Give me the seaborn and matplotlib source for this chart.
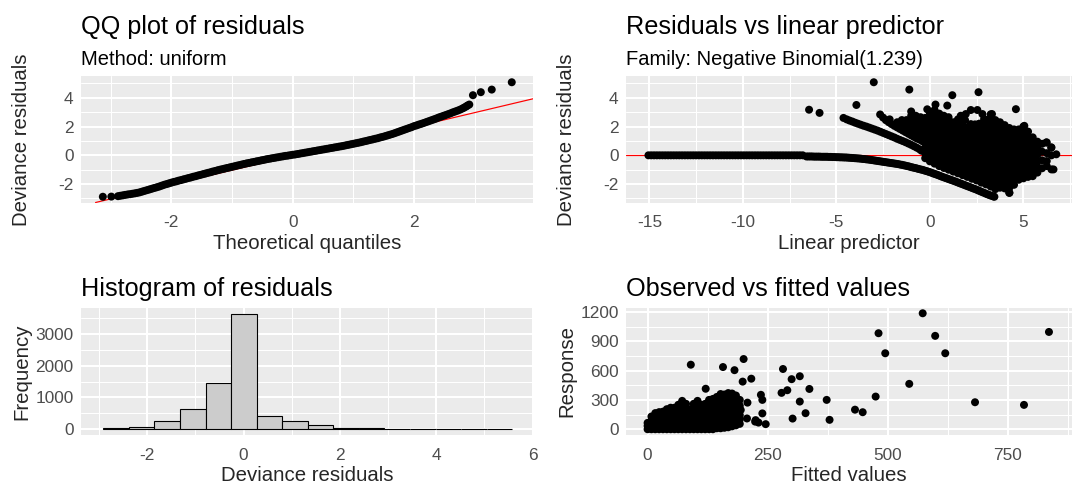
import numpy as np
import pandas as pd
import matplotlib
matplotlib.use("Agg")
import matplotlib.pyplot as plt
import seaborn as sns

# ---------------- QQ plot of residuals ----------------
qq_theoretical = [-3.13, -2.99, -2.88, -2.84, -2.80, -2.76, -2.72, -2.68, -2.64, -2.60,
                  -2.56, -2.52, -2.48, -2.44, -2.40, -2.36, -2.32, -2.28, -2.24, -2.20,
                  -2.16, -2.12, -2.08, -2.04, -2.00, -1.96, -1.92, -1.88, -1.84, -1.80,
                  -1.76, -1.72, -1.68, -1.64, -1.60, -1.56, -1.52, -1.48, -1.44, -1.40,
                  -1.36, -1.32, -1.28, -1.24, -1.20, -1.16, -1.12, -1.08, -1.04, -1.00,
                  -0.96, -0.92, -0.88, -0.84, -0.80, -0.76, -0.72, -0.68, -0.64, -0.60,
                  -0.56, -0.52, -0.48, -0.44, -0.40, -0.36, -0.32, -0.28, -0.24, -0.20,
                  -0.16, -0.12, -0.08, -0.04, 0.00, 0.04, 0.08, 0.12, 0.16, 0.20,
                  0.24, 0.28, 0.32, 0.36, 0.40, 0.44, 0.48, 0.52, 0.56, 0.60,
                  0.64, 0.68, 0.72, 0.76, 0.80, 0.84, 0.88, 0.92, 0.96, 1.00,
                  1.04, 1.08, 1.12, 1.16, 1.20, 1.24, 1.28, 1.32, 1.36, 1.40,
                  1.44, 1.48, 1.52, 1.56, 1.60, 1.64, 1.68, 1.72, 1.76, 1.80,
                  1.84, 1.88, 1.92, 1.96, 2.00, 2.04, 2.08, 2.12, 2.16, 2.20,
                  2.24, 2.28, 2.32, 2.36, 2.40, 2.44, 2.48, 2.52, 2.56, 2.60,
                  2.64, 2.68, 2.72, 2.76, 2.80, 2.83, 2.86, 2.88, 2.91, 2.97,
                  3.10, 3.28, 3.61]
qq_residual = [-2.88, -2.87, -2.84, -2.81, -2.78, -2.75, -2.72, -2.70, -2.67, -2.64,
               -2.61, -2.57, -2.52, -2.47, -2.42, -2.37, -2.32, -2.27, -2.22, -2.17,
               -2.11, -2.05, -2.00, -1.95, -1.90, -1.85, -1.81, -1.76, -1.72, -1.67,
               -1.63, -1.58, -1.54, -1.49, -1.45, -1.40, -1.36, -1.31, -1.27, -1.22,
               -1.18, -1.13, -1.09, -1.04, -1.00, -0.96, -0.92, -0.88, -0.84, -0.80,
               -0.76, -0.72, -0.68, -0.64, -0.60, -0.56, -0.53, -0.49, -0.46, -0.42,
               -0.39, -0.35, -0.32, -0.28, -0.25, -0.22, -0.19, -0.16, -0.13, -0.10,
               -0.07, -0.04, -0.02, 0.01, 0.04, 0.06, 0.09, 0.12, 0.15, 0.18,
               0.21, 0.24, 0.27, 0.30, 0.33, 0.36, 0.39, 0.42, 0.45, 0.48,
               0.51, 0.54, 0.57, 0.60, 0.63, 0.66, 0.70, 0.73, 0.77, 0.80,
               0.84, 0.87, 0.91, 0.95, 0.99, 1.03, 1.07, 1.11, 1.15, 1.19,
               1.24, 1.28, 1.33, 1.38, 1.43, 1.48, 1.54, 1.60, 1.66, 1.72,
               1.78, 1.84, 1.90, 1.96, 2.03, 2.08, 2.14, 2.19, 2.25, 2.31,
               2.37, 2.43, 2.49, 2.55, 2.62, 2.68, 2.74, 2.80, 2.86, 2.92,
               2.99, 3.05, 3.11, 3.18, 3.26, 3.33, 3.40, 3.46, 3.53, 4.18,
               4.39, 4.57, 5.08]
qq_line_intercept = -0.03
qq_line_slope = 1.0

# ---------------- Residuals vs linear predictor ----------------
# zero counts: flat run at very low predictor values
zero_flat_eta = [-15.05, -14.9, -14.75, -14.6, -14.45, -14.3, -14.15, -14.0, -13.85, -13.7,
                 -13.55, -13.4, -13.25, -13.1, -12.95, -12.8, -12.65, -12.5, -12.35, -12.2,
                 -12.05, -11.9, -11.75, -11.6, -11.45, -11.3, -11.15, -11.0, -10.85, -10.7,
                 -10.55, -10.4, -10.25, -10.1, -9.95, -9.8, -9.65, -9.5, -9.35, -9.2,
                 -9.05, -8.9, -8.75, -8.6, -8.45, -8.3, -8.15, -8.0, -7.85, -7.7,
                 -7.55, -7.4, -7.25, -7.1, -6.95, -6.8]
zero_flat_resid = [0.0, 0.0, 0.0, 0.0, 0.0, 0.0, 0.0, 0.0, 0.0, 0.0,
                   0.0, 0.0, 0.0, 0.0, 0.0, 0.0, 0.0, 0.0, 0.0, 0.0,
                   0.0, 0.0, 0.0, 0.0, 0.0, 0.0, 0.0, 0.0, 0.0, 0.0,
                   0.0, 0.0, 0.0, 0.0, 0.0, 0.0, 0.0, 0.0, 0.0, 0.0,
                   0.0, 0.0, 0.0, 0.0, 0.0, 0.0, 0.0, 0.0, 0.0, 0.0,
                   0.0, 0.0, 0.0, 0.0, 0.0, 0.0]
# zero counts: descending band
zero_curve_eta = [-6.6, -6.5, -6.4, -6.3, -6.2, -6.1, -6.0, -5.9, -5.8, -5.7,
                  -5.6, -5.5, -5.4, -5.3, -5.2, -5.1, -5.0, -4.9, -4.8, -4.7,
                  -4.6, -4.5, -4.4, -4.3, -4.2, -4.1, -4.0, -3.9, -3.8, -3.7,
                  -3.6, -3.5, -3.4, -3.3, -3.2, -3.1, -3.0, -2.9, -2.8, -2.7,
                  -2.6, -2.5, -2.4, -2.3, -2.2, -2.1, -2.0, -1.9, -1.8, -1.7,
                  -1.6, -1.5, -1.4, -1.3, -1.2, -1.1, -1.0, -0.9, -0.8, -0.7,
                  -0.6, -0.5, -0.4, -0.3, -0.2, -0.1, 0.0, 0.1, 0.2, 0.3,
                  0.4, 0.5, 0.6, 0.7, 0.8, 0.9, 1.0, 1.1, 1.2, 1.3,
                  1.4, 1.5, 1.6, 1.7, 1.8, 1.9, 2.0, 2.1, 2.2, 2.3,
                  2.4, 2.5, 2.6, 2.7, 2.8, 2.9, 3.0, 3.1, 3.2, 3.3,
                  3.4, 3.45]
zero_curve_resid = [-0.08, -0.08, -0.08, -0.08, -0.09, -0.09, -0.09, -0.09, -0.10, -0.10,
                    -0.10, -0.10, -0.11, -0.11, -0.12, -0.12, -0.13, -0.13, -0.14, -0.14,
                    -0.15, -0.15, -0.16, -0.17, -0.18, -0.19, -0.20, -0.21, -0.22, -0.23,
                    -0.25, -0.26, -0.28, -0.29, -0.31, -0.33, -0.35, -0.37, -0.39, -0.41,
                    -0.43, -0.45, -0.47, -0.49, -0.51, -0.53, -0.55, -0.57, -0.59, -0.61,
                    -0.64, -0.66, -0.69, -0.72, -0.75, -0.78, -0.82, -0.85, -0.88, -0.91,
                    -0.95, -0.98, -1.01, -1.05, -1.09, -1.13, -1.17, -1.22, -1.27, -1.31,
                    -1.36, -1.41, -1.46, -1.51, -1.56, -1.60, -1.65, -1.70, -1.74, -1.79,
                    -1.84, -1.89, -1.94, -1.99, -2.04, -2.09, -2.14, -2.19, -2.24, -2.29,
                    -2.34, -2.39, -2.45, -2.50, -2.56, -2.61, -2.67, -2.72, -2.77, -2.82,
                    -2.86, -2.88]
# counts of one
one_band_eta = [-4.62, -4.45, -4.3, -4.15, -4.0, -3.85, -3.7, -3.55, -3.4, -3.25,
                -3.1, -2.95, -2.8, -2.65, -2.5, -2.35, -2.2, -2.05, -1.9, -1.75,
                -1.6, -1.45, -1.3, -1.15, -1.0, -0.85, -0.7, -0.55, -0.45]
one_band_resid = [2.60, 2.50, 2.42, 2.35, 2.27, 2.20, 2.13, 2.06, 2.00, 1.93,
                  1.86, 1.79, 1.72, 1.64, 1.56, 1.48, 1.40, 1.32, 1.24, 1.15,
                  1.07, 0.99, 0.91, 0.82, 0.73, 0.63, 0.53, 0.42, 0.32]
# counts of two
two_band_eta = [-2.66, -2.5, -2.35, -2.2, -2.05, -1.9, -1.75, -1.6, -1.45, -1.3,
                -1.15, -1.0, -0.85, -0.7, -0.55, -0.4]
two_band_resid = [2.84, 2.62, 2.44, 2.30, 2.17, 2.05, 1.94, 1.83, 1.72, 1.61,
                  1.50, 1.39, 1.28, 1.17, 1.09, 0.98]
# larger counts: dense cloud, listed column by column
cloud_eta = [-2.15, -1.75, -1.5, -1.25, -1.0, -0.75, -0.5, -0.25, 0.0, 0.25,
             0.5, 0.75, 1.0, 1.25, 1.5, 1.75, 2.0, 2.25, 2.5, 2.75,
             3.0, 3.25, 3.5, 3.75, 4.0, 4.25, 4.5, 4.75, 5.0, 5.25,
             5.5, 5.75, 6.0, 6.25, 6.5]
cloud_resid = [
    [2.5],
    [2.3],
    [2.1, 2.45],
    [1.9, 2.25, 2.45],
    [1.75, 2.1, 2.45, 2.75, 3.05],
    [1.55, 1.9, 2.25, 2.55, 2.75],
    [1.35, 1.7, 2.05, 2.4, 2.65],
    [-0.2, 0.15, 0.5, 0.85, 1.2, 1.55, 1.9, 2.25, 2.6],
    [-0.42, -0.1, 0.25, 0.6, 0.95, 1.3, 1.65, 2.0, 2.35, 2.7, 2.95],
    [-0.58, -0.27, 0.08, 0.43, 0.78, 1.13, 1.48, 1.83, 2.18, 2.53, 2.85, 3.15],
    [-0.75, -0.45, -0.1, 0.25, 0.6, 0.95, 1.3, 1.65, 2.0, 2.35, 2.65, 2.9],
    [-0.88, -0.6, -0.25, 0.1, 0.45, 0.8, 1.15, 1.5, 1.85, 2.2, 2.5, 2.75],
    [-1.0, -0.7, -0.35, 0.0, 0.35, 0.7, 1.05, 1.4, 1.75, 2.1, 2.4, 2.65],
    [-1.13, -0.85, -0.5, -0.15, 0.2, 0.55, 0.9, 1.25, 1.6, 1.95, 2.3],
    [-1.25, -0.95, -0.6, -0.25, 0.1, 0.45, 0.8, 1.15, 1.5, 1.85, 2.2, 2.5],
    [-1.38, -1.1, -0.75, -0.4, -0.05, 0.3, 0.65, 1.0, 1.35, 1.7, 2.05, 2.4, 2.7],
    [-1.5, -1.2, -0.85, -0.5, -0.15, 0.2, 0.55, 0.9, 1.25, 1.6, 1.95],
    [-1.63, -1.35, -1.0, -0.65, -0.3, 0.05, 0.4, 0.75, 1.1, 1.45, 1.8],
    [-1.75, -1.45, -1.1, -0.75, -0.4, -0.05, 0.3, 0.65, 1.0, 1.35, 1.7, 1.95],
    [-1.9, -1.6, -1.25, -0.9, -0.55, -0.2, 0.15, 0.5, 0.85, 1.2, 1.55, 1.9, 2.2],
    [-2.02, -1.75, -1.4, -1.05, -0.7, -0.35, 0.0, 0.35, 0.7, 1.05, 1.4, 1.75, 2.1, 2.45],
    [-2.17, -1.9, -1.55, -1.2, -0.85, -0.5, -0.15, 0.2, 0.55, 0.9, 1.25, 1.6, 1.95, 2.3, 2.6, 2.85],
    [-2.35, -2.0, -1.65, -1.3, -0.95, -0.6, -0.25, 0.1, 0.45, 0.8, 1.15, 1.5, 1.85, 2.2, 2.45],
    [-2.25, -1.9, -1.55, -1.2, -0.85, -0.5, -0.15, 0.2, 0.55, 0.9, 1.25, 1.6, 1.95, 2.3],
    [-2.3, -1.95, -1.6, -1.25, -0.9, -0.55, -0.2, 0.15, 0.5, 0.85, 1.2, 1.55, 1.85, 2.1],
    [-2.6, -2.25, -1.9, -1.55, -1.2, -0.85, -0.5, -0.15, 0.2, 0.55, 0.9, 1.25, 1.6, 1.9],
    [-2.05, -1.7, -1.35, -1.0, -0.65, -0.3, 0.05, 0.4, 0.75, 1.1, 1.45, 1.8],
    [-1.7, -1.35, -1.0, -0.65, -0.3, 0.05, 0.4, 0.75, 1.1, 1.45, 1.8],
    [-1.6, -1.25, -0.9, -0.55, -0.2, 0.15, 0.5, 0.85, 1.2, 1.55, 2.0],
    [-1.5, -1.15, -0.8, -0.45, -0.1, 0.25, 0.6, 0.95, 1.3, 1.65],
    [-1.45, -1.05, -0.65, -0.25, 0.15, 0.55, 0.95, 1.25],
    [-1.2, -0.8, -0.4, 0.05, 0.5, 0.95],
    [-0.9, -0.35, 0.25, 0.8],
    [-0.75, -0.4, 0.15, 0.9],
    [-0.98, 0.0, 0.55],
]
# isolated observations
sparse_eta = [-6.46, -5.9, -3.93, -3.0, -1.1, 1.2, 2.6, 4.6, -0.14, 0.3,
              0.93, 0.66, 1.65, 1.92, 2.19, 2.54, 2.81, 2.9, 2.63, 2.41,
              2.19, 1.88, 3.32, 5.05, 6.22, 6.49, 6.61, 4.25, 6.76]
sparse_resid = [3.17, 2.95, 3.5, 5.08, 4.57, 4.18, 4.39, 3.21, 3.2, 3.53,
                3.46, 2.75, 2.75, 2.87, 3.15, 3.15, 2.87, 2.52, 2.2, 2.15,
                2.17, 2.45, 2.87, 2.05, 0.89, 0.54, -0.98, -2.61, 0.07]
reference_level = 0.0
family_label = "Negative Binomial(1.239)"

# ---------------- Histogram of residuals ----------------
hist_edges = [-2.91, -2.379, -1.849, -1.318, -0.788, -0.257, 0.273, 0.804, 1.334,
              1.865, 2.396, 2.926, 3.457, 3.987, 4.518, 5.048, 5.579]
hist_counts = [40, 80, 275, 630, 1470, 3625, 405, 275, 125, 38, 35, 4, 2, 1, 1, 1]

# ---------------- Observed vs fitted values ----------------
of_col_fitted = [0, 8, 16, 24, 32, 40, 48, 56, 64, 72, 80, 88, 96, 104, 112, 120,
                 128, 136, 144, 152, 160, 168, 176, 184, 192]
of_col_response = [
    [0, 35, 65],
    [0, 45, 90, 130],
    [0, 45, 90, 135, 165],
    [0, 45, 90, 135, 175],
    [0, 45, 90, 135, 180],
    [0, 45, 90, 135, 180, 205],
    [0, 45, 90, 135, 180, 220],
    [0, 45, 90, 135, 180, 220],
    [0, 45, 90, 135, 180, 225, 250],
    [0, 45, 90, 135, 180, 225, 270, 290],
    [0, 45, 90, 135, 180, 225, 260],
    [0, 45, 90, 135, 180, 200],
    [0, 45, 90, 135, 180, 225, 260],
    [0, 45, 90, 135, 180, 225, 270, 290],
    [0, 45, 90, 135, 180, 225, 250],
    [0, 45, 90, 135, 180, 225, 260],
    [0, 45, 90, 135, 180, 225, 270, 300],
    [0, 45, 90, 135, 180, 225, 270, 310],
    [10, 55, 100, 145, 190, 235, 280, 330],
    [10, 55, 100, 145, 190, 235, 280, 325, 360],
    [15, 60, 105, 150, 195, 240, 285, 330, 355],
    [20, 65, 110, 155, 200, 245, 290, 335, 370],
    [30, 75, 120, 165, 210, 255, 300, 345, 365],
    [40, 85, 130, 175, 220, 265, 310, 345],
    [55, 100, 145, 195, 240, 300],
]
of_sparse_fitted = [121, 90, 157, 181, 200, 198, 216, 208, 194, 207,
                    225, 224, 231, 246, 236, 239, 239, 282, 300, 317,
                    291, 279, 337, 317, 329, 302, 373, 379, 432, 448,
                    475, 481, 495, 545, 573, 599, 620, 682, 784, 836]
of_sparse_response = [414, 660, 636, 604, 718, 487, 517, 272, 197, 110,
                      93, 78, 68, 52, 352, 300, 162, 616, 512, 542,
                      399, 372, 412, 283, 164, 109, 300, 96, 200, 174,
                      334, 982, 777, 464, 1186, 955, 777, 276, 249, 995]


def flatten(xs, cols):
    fx, fy = [], []
    for x, col in zip(xs, cols):
        for y in col:
            fx.append(x)
            fy.append(y)
    return fx, fy


cloud_x, cloud_y = flatten(cloud_eta, cloud_resid)
pred_df = pd.DataFrame({
    "eta": zero_flat_eta + zero_curve_eta + one_band_eta + two_band_eta + cloud_x + sparse_eta,
    "resid": zero_flat_resid + zero_curve_resid + one_band_resid + two_band_resid + cloud_y + sparse_resid,
})
qq_df = pd.DataFrame({"theoretical": qq_theoretical, "sample": qq_residual})
of_x, of_y = flatten(of_col_fitted, of_col_response)
of_df = pd.DataFrame({"fitted": of_x + of_sparse_fitted, "response": of_y + of_sparse_response})
hist_mids = [(a + b) / 2 for a, b in zip(hist_edges[:-1], hist_edges[1:])]

# ---------------- styling ----------------
sns.set_theme(style="darkgrid")
plt.rcParams["font.family"] = ["Liberation Sans", "DejaVu Sans"]
plt.rcParams["axes.unicode_minus"] = False

W, H, DPI = 1075, 486, 100
PX = 72 / DPI  # points per pixel
PANEL_BG = "#EBEBEB"
TICK_TEXT = "#4D4D4D"
TICK_LINE = "#333333"
REF_RED = "#FF0000"
TITLE_SIZE = 18.2
SUB_SIZE = 14.5
AXT_SIZE = 14.7
TICK_SIZE = 12.4
POINT_S = 33

fig = plt.figure(figsize=(W / DPI, H / DPI), dpi=DPI, facecolor="white")


def px_axes(left, top, right, bottom):
    return fig.add_axes([left / W, 1 - bottom / H, (right - left) / W, (bottom - top) / H])


def ftext(x, y, s, **kw):
    fig.text(x / W, 1 - y / H, s, **kw)


def style(ax, xlim, ylim, xmaj, xmin, ymaj, ymin):
    ax.set_facecolor(PANEL_BG)
    ax.set_xlim(*xlim)
    ax.set_ylim(*ylim)
    ax.set_xticks(xmaj)
    ax.set_xticks(xmin, minor=True)
    ax.set_yticks(ymaj)
    ax.set_yticks(ymin, minor=True)
    ax.set_xticklabels([f"{v:g}" for v in xmaj])
    ax.set_yticklabels([f"{v:g}" for v in ymaj])
    ax.grid(which="major", color="white", linewidth=2.0 * PX)
    ax.grid(which="minor", color="white", linewidth=1.0 * PX)
    ax.set_axisbelow(True)
    for sp in ax.spines.values():
        sp.set_visible(False)
    ax.tick_params(which="major", length=4 * PX, width=1.1 * PX, color=TICK_LINE,
                   labelcolor=TICK_TEXT, labelsize=TICK_SIZE)
    ax.tick_params(axis="x", which="major", pad=8.5 * PX)
    ax.tick_params(axis="y", which="major", pad=3.5 * PX)
    ax.tick_params(which="minor", length=0)
    ax.set_xlabel("")
    ax.set_ylabel("")


L0, L1 = 81, 533
R0, R1 = 626, 1072
T0, T1 = 76.5, 202.5
B0, B1 = 307.5, 435

ax_qq = px_axes(L0, T0, L1, T1)
ax_rl = px_axes(R0, T0, R1, T1)
ax_hi = px_axes(L0, B0, L1, B1)
ax_of = px_axes(R0, B0, R1, B1)

# QQ plot
ax_qq.axline((0, qq_line_intercept), slope=qq_line_slope, color=REF_RED,
             linewidth=1.2 * PX, zorder=2.5)
sns.scatterplot(data=qq_df, x="theoretical", y="sample", ax=ax_qq, color="black",
                s=POINT_S, linewidth=0, edgecolor="none", zorder=3, legend=False)
style(ax_qq, (-3.49, 3.96), (-3.28, 5.48), [-2, 0, 2], [-3, -1, 1, 3],
      [-2, 0, 2, 4], [-3, -1, 1, 3, 5])

# Residuals vs linear predictor
ax_rl.axhline(reference_level, color=REF_RED, linewidth=1.2 * PX, zorder=2.5)
sns.scatterplot(data=pred_df, x="eta", y="resid", ax=ax_rl, color="black",
                s=POINT_S, linewidth=0, edgecolor="none", zorder=3, legend=False)
style(ax_rl, (-16.25, 7.6), (-3.28, 5.48), [-15, -10, -5, 0, 5],
      [-12.5, -7.5, -2.5, 2.5, 7.5], [-2, 0, 2, 4], [-3, -1, 1, 3, 5])

# Histogram
sns.histplot(x=hist_mids, weights=hist_counts, bins=hist_edges, ax=ax_hi,
             color="#CCCCCC", edgecolor="black", linewidth=1.1 * PX, alpha=1.0, zorder=2)
style(ax_hi, (-3.375, 6.01), (-181, 3830), [-2, 0, 2, 4, 6], [-3, -1, 1, 3, 5],
      [0, 1000, 2000, 3000], [500, 1500, 2500, 3500])

# Observed vs fitted
sns.scatterplot(data=of_df, x="fitted", y="response", ax=ax_of, color="black",
                s=POINT_S, linewidth=0, edgecolor="none", zorder=3, legend=False)
style(ax_of, (-45, 884), (-59, 1245), [0, 250, 500, 750], [125, 375, 625, 875],
      [0, 300, 600, 900, 1200], [150, 450, 750, 1050])

# titles and subtitles
ftext(L0, 34, "QQ plot of residuals", fontsize=TITLE_SIZE, color="black", ha="left", va="baseline")
ftext(L0, 65, "Method: uniform", fontsize=SUB_SIZE, color="black", ha="left", va="baseline")
ftext(R0, 34, "Residuals vs linear predictor", fontsize=TITLE_SIZE, color="black", ha="left", va="baseline")
ftext(R0, 65, f"Family: {family_label}", fontsize=SUB_SIZE, color="black", ha="left", va="baseline")
ftext(L0, 295.5, "Histogram of residuals", fontsize=TITLE_SIZE, color="black", ha="left", va="baseline")
ftext(R0, 295.5, "Observed vs fitted values", fontsize=TITLE_SIZE, color="black", ha="left", va="baseline")

# axis titles
ftext((L0 + L1) / 2, 248.5, "Theoretical quantiles", fontsize=AXT_SIZE, ha="center", va="baseline")
ftext((R0 + R1) / 2, 248.5, "Linear predictor", fontsize=AXT_SIZE, ha="center", va="baseline")
ftext((L0 + L1) / 2, 481, "Deviance residuals", fontsize=AXT_SIZE, ha="center", va="baseline")
ftext((R0 + R1) / 2, 481, "Fitted values", fontsize=AXT_SIZE, ha="center", va="baseline")
ftext(12, (T0 + T1) / 2, "Deviance residuals", fontsize=AXT_SIZE, rotation=90, ha="left", va="center")
ftext(557, (T0 + T1) / 2, "Deviance residuals", fontsize=AXT_SIZE, rotation=90, ha="left", va="center")
ftext(12, (B0 + B1) / 2, "Frequency", fontsize=AXT_SIZE, rotation=90, ha="left", va="center")
ftext(557, (B0 + B1) / 2, "Response", fontsize=AXT_SIZE, rotation=90, ha="left", va="center")

fig.savefig("out.png", dpi=DPI, facecolor="white")
